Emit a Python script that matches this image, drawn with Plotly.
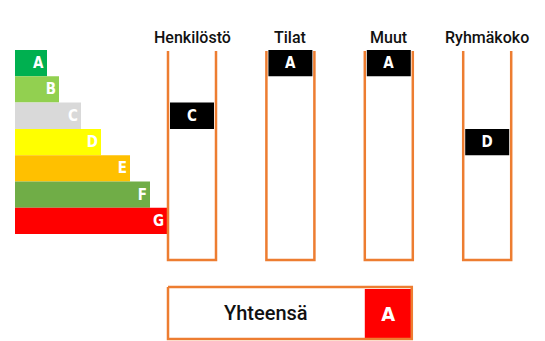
import plotly.graph_objects as go

# ---- data ----
scale_labels = ["A", "B", "C", "D", "E", "F", "G"]
scale_colors = ["#00B050", "#92D050", "#D9D9D9", "#FFFF00", "#FFC000", "#70AD47", "#FF0000"]
scale_ends = [47, 59, 81, 101, 130, 150, 167]   # right end of each scale step
categories = ["Henkilöstö", "Tilat", "Muut", "Ryhmäkoko"]
category_ratings = ["C", "A", "A", "D"]
total_label = "Yhteensä"
total_rating = "A"

# ---- layout helpers ----
W, H = 545, 341
ROW_TOP, ROW_H = 50, 26.3
def py(p):
    return (p - ROW_TOP) / ROW_H - 0.5

ORANGE = "#ED7D31"
FONT = "DejaVu Sans Condensed, Roboto, sans-serif"
TFONT = "Roboto, sans-serif"
scale_x0 = 15
col_left0, col_step, col_w = 168, 98.4, 48
col_top, col_bottom = 51, 260

fig = go.Figure()

# scale bars
fig.add_trace(go.Bar(
    orientation="h",
    y=list(range(len(scale_labels))),
    x=[e - scale_x0 for e in scale_ends],
    base=scale_x0,
    width=1,
    marker=dict(color=scale_colors, line=dict(width=0)),
    text=scale_labels,
    textposition="inside",
    insidetextanchor="end",
    textangle=0,
    constraintext="none",
    textfont=dict(family=FONT, size=15, color="white", weight="bold"),
    hoverinfo="skip",
))

# column outlines (open-top boxes)
for i, cat in enumerate(categories):
    l = col_left0 + i * col_step
    r = l + col_w
    fig.add_trace(go.Scatter(
        x=[l, l, r, r],
        y=[py(col_top), py(col_bottom), py(col_bottom), py(col_top)],
        mode="lines",
        line=dict(color=ORANGE, width=2.5),
        hoverinfo="skip",
    ))
    fig.add_annotation(
        x=l + col_w / 2, y=py(37), text=cat, showarrow=False,
        font=dict(family=TFONT, size=16, color="#111111", weight=500),
        xanchor="center", yanchor="middle",
    )

# rating markers
fig.add_trace(go.Bar(
    orientation="h",
    y=[scale_labels.index(r) for r in category_ratings],
    x=[col_w - 4] * len(categories),
    base=[col_left0 + i * col_step + 2 for i in range(len(categories))],
    width=1,
    marker=dict(color="black", line=dict(width=0)),
    text=category_ratings,
    textposition="inside",
    insidetextanchor="middle",
    textangle=0,
    constraintext="none",
    textfont=dict(family=FONT, size=15, color="white", weight="bold"),
    hoverinfo="skip",
))

# total box
box_l, box_r = col_left0, col_left0 + 2 * col_step + col_w - 1
box_t, box_b = 287, 339
red_l = col_left0 + 2 * col_step
fig.add_trace(go.Bar(
    orientation="h",
    y=[(py(box_t + 2) + py(box_b - 1)) / 2],
    x=[box_r - red_l],
    base=[red_l],
    width=py(box_b - 1) - py(box_t + 2),
    marker=dict(color="#FF0000", line=dict(width=0)),
    text=[total_rating],
    textposition="inside",
    insidetextanchor="middle",
    textangle=0,
    constraintext="none",
    textfont=dict(family=FONT, size=20, color="white", weight="bold"),
    hoverinfo="skip",
))
fig.add_trace(go.Scatter(
    x=[box_l, box_r, box_r, box_l, box_l],
    y=[py(box_t), py(box_t), py(box_b), py(box_b), py(box_t)],
    mode="lines",
    line=dict(color=ORANGE, width=2.5),
    hoverinfo="skip",
))
fig.add_annotation(
    x=(box_l + red_l) / 2, y=(py(box_t) + py(box_b)) / 2, text=total_label,
    showarrow=False, font=dict(family=TFONT, size=20, color="#111111", weight=500),
    xanchor="center", yanchor="middle",
)

fig.update_layout(
    width=W, height=H,
    margin=dict(l=0, r=0, t=0, b=0),
    paper_bgcolor="white", plot_bgcolor="white",
    barmode="overlay",
    showlegend=False,
    xaxis=dict(range=[0, W], visible=False, fixedrange=True),
    yaxis=dict(range=[py(H), py(0)], visible=False, fixedrange=True),
)

fig.write_html("out.html", config={"displayModeBar": False},
               post_script="document.body.style.margin='0';")
